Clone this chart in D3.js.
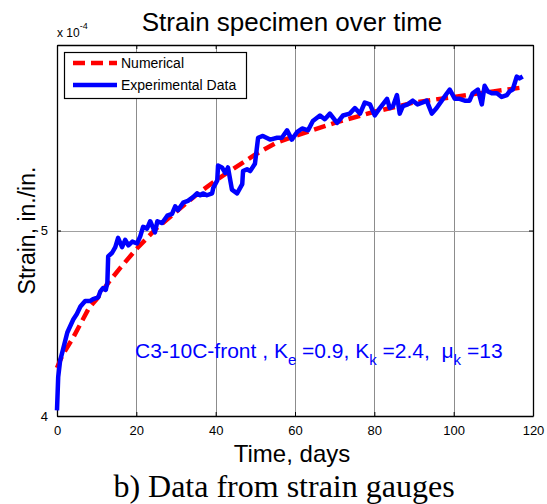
<!DOCTYPE html>
<html>
<head>
<meta charset="utf-8">
<script src="https://cdn.jsdelivr.net/npm/d3@7"></script>
<style>
    body { margin: 0; background: #fff; }
    text { font-family: "Liberation Sans", Arial, sans-serif; }
</style>
</head>
<body>
<div id="chart-div"></div>
<script>
// values in units of 1e-4 in./in.
let numTime = [0, 1, 2, 4, 6, 8, 10, 13, 16, 20, 25, 30, 35, 40, 45, 50, 55, 60, 70, 80, 90, 100, 110, 117];
let numStrain = [4.26, 4.31, 4.35, 4.42, 4.50, 4.58, 4.63, 4.72, 4.80, 4.90, 5.01, 5.10, 5.19, 5.27, 5.34, 5.41, 5.47, 5.51, 5.58, 5.64, 5.69, 5.72, 5.75, 5.77];

let expTime = [0, 0.3, 0.8, 1.3, 2.6, 4.1, 5.0, 5.9, 7.1, 8.4, 9.1, 10.4, 10.9, 11.6, 12.3, 12.7, 12.9, 13.9, 14.7, 15.4,
    16.4, 17.2, 18.0, 19.0, 20.2, 21.0, 21.7, 22.7, 23.5, 24.7, 25.3, 26.5, 27.8, 29.0, 29.8, 30.5, 31.8, 33.0, 34.3, 35.3,
    36.1, 36.8, 37.8, 39.1, 39.4, 40.4, 40.6, 41.6, 42.4, 43.1, 44.1, 45.4, 46.7, 46.9, 47.9, 48.7, 49.9, 50.7, 51.9, 53.7,
    55.5, 56.7, 58.0, 59.2, 60.5, 61.8, 63.3, 64.5, 66.3, 67.5, 68.8, 70.6, 72.1, 73.8, 75.1, 76.4, 77.6, 78.9, 80.1, 81.4,
    83.2, 83.9, 84.7, 85.7, 86.4, 87.2, 88.4, 89.7, 90.9, 92.2, 93.2, 94.5, 95.7, 97.0, 98.3, 99.0, 100.3, 101.5, 102.8, 104.0,
    104.8, 106.1, 107.1, 107.8, 108.6, 109.6, 110.9, 112.1, 113.4, 114.1, 114.9, 115.9, 116.6, 117.4];
let expStrain = [4.03, 4.21, 4.30, 4.34, 4.45, 4.52, 4.55, 4.59, 4.62, 4.62, 4.63, 4.64, 4.67, 4.69, 4.68, 4.72, 4.86, 4.88, 4.91, 4.96,
    4.91, 4.95, 4.92, 4.94, 4.93, 4.97, 5.02, 5.01, 5.05, 4.99, 5.05, 5.04, 5.08, 5.09, 5.13, 5.11, 5.15, 5.16, 5.18, 5.20,
    5.19, 5.20, 5.19, 5.20, 5.23, 5.27, 5.35, 5.34, 5.31, 5.34, 5.22, 5.20, 5.25, 5.32, 5.33, 5.32, 5.36, 5.50, 5.51, 5.49,
    5.50, 5.50, 5.54, 5.49, 5.53, 5.55, 5.54, 5.59, 5.62, 5.60, 5.63, 5.58, 5.62, 5.63, 5.66, 5.63, 5.69, 5.68, 5.62, 5.66,
    5.71, 5.66, 5.67, 5.73, 5.63, 5.67, 5.68, 5.70, 5.68, 5.69, 5.70, 5.63, 5.66, 5.70, 5.74, 5.76, 5.71, 5.71, 5.70, 5.70,
    5.74, 5.76, 5.68, 5.78, 5.75, 5.74, 5.74, 5.72, 5.73, 5.75, 5.76, 5.83, 5.82, 5.83];

let xTicks = [0, 20, 40, 60, 80, 100, 120];
let yTicks = [4, 5];
let legendLabels = ['Numerical', 'Experimental Data'];

let margin = { top: 45, right: 14, bottom: 88, left: 57 };
let width = 547 - margin.left - margin.right;
let height = 504 - margin.top - margin.bottom;

let svg = d3.select('#chart-div').append('svg')
    .attr('width', 547).attr('height', 504);
let plot = svg.append('g').attr('transform', `translate(${margin.left},${margin.top})`);

let xScale = d3.scaleLinear().domain([0, 120]).range([0, width]);
let yScale = d3.scaleLinear().domain([4, 6]).range([height, 0]);

// grid
plot.append('g').selectAll('line').data(xTicks.slice(1, -1)).join('line')
    .attr('x1', d => Math.round(xScale(d)) + 0.5).attr('x2', d => Math.round(xScale(d)) + 0.5)
    .attr('y1', 0).attr('y2', height)
    .attr('stroke', '#8c8c8c').attr('stroke-width', 1);
plot.append('g').selectAll('line').data([5]).join('line')
    .attr('y1', d => Math.round(yScale(d)) + 0.5).attr('y2', d => Math.round(yScale(d)) + 0.5)
    .attr('x1', 0).attr('x2', width)
    .attr('stroke', '#a0a0a0').attr('stroke-width', 1);

// axes, ticks point inward like matlab
let xAxisB = plot.append('g').attr('transform', `translate(0,${height})`)
    .call(d3.axisBottom(xScale).tickValues(xTicks).tickSizeInner(-4).tickSizeOuter(0).tickPadding(10));
let xAxisT = plot.append('g')
    .call(d3.axisTop(xScale).tickValues(xTicks).tickSizeInner(-4).tickSizeOuter(0).tickFormat(''));
let yAxisL = plot.append('g')
    .call(d3.axisLeft(yScale).tickValues(yTicks).tickSizeInner(-4).tickSizeOuter(0).tickPadding(9)
        .tickFormat(d3.format('d')));
let yAxisR = plot.append('g').attr('transform', `translate(${width},0)`)
    .call(d3.axisRight(yScale).tickValues(yTicks).tickSizeInner(-4).tickSizeOuter(0).tickFormat(''));
for (let ax of [xAxisB, xAxisT, yAxisL, yAxisR]) {
    ax.select('.domain').attr('stroke', '#000').attr('stroke-width', 1.3);
    ax.selectAll('.tick line').attr('stroke', '#000');
    ax.selectAll('.tick text').attr('font-size', 13).attr('fill', '#000')
        .attr('font-family', '"Liberation Sans", Arial, sans-serif');
}

let lineGen = d3.line()
    .x(d => xScale(d[0]))
    .y(d => yScale(d[1]));

plot.append('path')
    .attr('d', lineGen(d3.zip(numTime, numStrain)))
    .attr('fill', 'none').attr('stroke', '#ff0000')
    .attr('stroke-width', 4.5).attr('stroke-dasharray', '12,6');
plot.append('path')
    .attr('d', lineGen(d3.zip(expTime, expStrain)))
    .attr('fill', 'none').attr('stroke', '#0000ff')
    .attr('stroke-width', 4.5).attr('stroke-linejoin', 'round');

// exponent label
let expo = svg.append('text').attr('x', 57).attr('y', 37).attr('font-size', 12);
expo.append('tspan').text('x 10');
expo.append('tspan').attr('dy', -8).attr('font-size', 9).text('-4');

// title and axis labels
svg.append('text').attr('x', 292).attr('y', 31).attr('text-anchor', 'middle')
    .attr('font-size', 26).text('Strain specimen over time');
svg.append('text').attr('x', 292).attr('y', 462).attr('text-anchor', 'middle')
    .attr('font-size', 24).text('Time, days');
svg.append('text').attr('transform', `translate(35,${margin.top + height / 2}) rotate(-90)`)
    .attr('text-anchor', 'middle').attr('font-size', 23).text('Strain, in./in.');
svg.append('text').attr('x', 284).attr('y', 497).attr('text-anchor', 'middle')
    .style('font-family', '"Liberation Serif", "Times New Roman", serif')
    .attr('font-size', 32).text('b) Data from strain gauges');

// annotation
let note = svg.append('text').attr('x', 135).attr('y', 358).attr('font-size', 21)
    .attr('fill', '#0000ff').style('white-space', 'pre');
note.append('tspan').text('C3-10C-front , K');
note.append('tspan').attr('dy', 7).attr('font-size', 15).text('e');
note.append('tspan').attr('dy', -7).text(' =0.9, K');
note.append('tspan').attr('dy', 7).attr('font-size', 15).text('k');
note.append('tspan').attr('dy', -7).text(' =2.4,  \u03bc');
note.append('tspan').attr('dy', 7).attr('font-size', 15).text('k');
note.append('tspan').attr('dy', -7).text(' =13');

// legend
let legend = svg.append('g');
legend.append('rect').attr('x', 64.5).attr('y', 52.5).attr('width', 182).attr('height', 46)
    .attr('fill', '#fff').attr('stroke', '#000').attr('stroke-width', 1.2);
let legendColors = ['#ff0000', '#0000ff'];
let legendDash = ['12,6', null];
legendLabels.forEach((label, i) => {
    let y = 63 + i * 22;
    legend.append('line').attr('x1', 73).attr('x2', 117).attr('y1', y).attr('y2', y)
        .attr('stroke', legendColors[i]).attr('stroke-width', 4.5)
        .attr('stroke-dasharray', legendDash[i]);
    legend.append('text').attr('x', 121).attr('y', y + 5).attr('font-size', 14).text(label);
});
</script>
</body>
</html>
